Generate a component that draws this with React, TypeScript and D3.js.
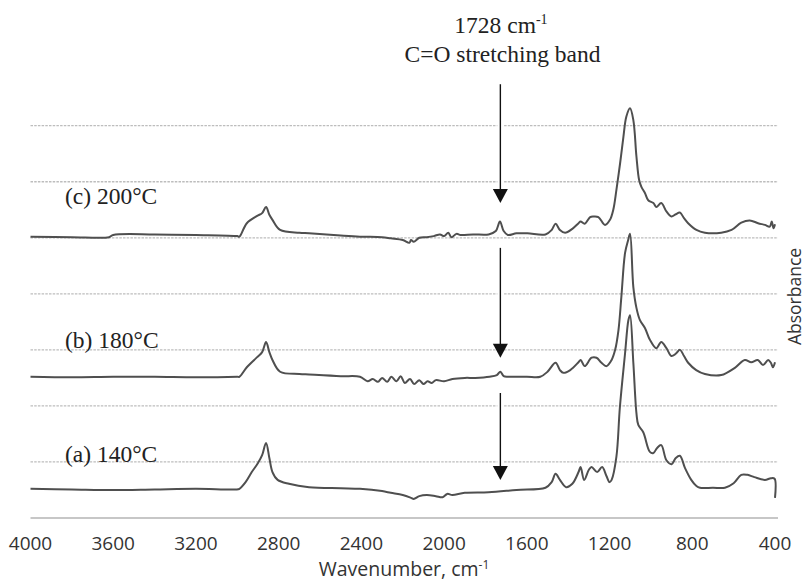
import React from "react";
import * as d3 from "d3";

// ---- data (wavenumber cm-1, absorbance in offset units) ----
const seriesA: [number, number][] = [
  [4000, 0.52], [3800, 0.51], [3600, 0.5], [3400, 0.51], [3200, 0.52], [3000, 0.51], [2990, 0.52],
  [2960, 0.64], [2930, 0.82], [2900, 0.98], [2880, 1.12], [2861, 1.34], [2845, 1.07], [2830, 0.82],
  [2805, 0.68], [2750, 0.61], [2653, 0.55], [2500, 0.53], [2407, 0.52], [2300, 0.48], [2258, 0.45],
  [2200, 0.41], [2160, 0.36], [2147, 0.34], [2120, 0.39], [2084, 0.41], [2040, 0.39], [2007, 0.37],
  [1985, 0.43], [1960, 0.41], [1900, 0.45], [1785, 0.46], [1650, 0.5], [1510, 0.54], [1480, 0.64],
  [1461, 0.79], [1440, 0.68], [1410, 0.55], [1380, 0.61], [1350, 0.82], [1340, 0.91], [1323, 0.68],
  [1300, 0.86], [1287, 0.91], [1260, 0.82], [1236, 0.91], [1215, 0.75], [1200, 0.64], [1190, 0.68],
  [1167, 1.09], [1150, 1.98], [1125, 2.94], [1109, 3.53], [1101, 3.62], [1085, 2.77], [1070, 1.87],
  [1061, 1.66], [1037, 1.53], [1005, 1.18], [988, 1.16], [970, 1.25], [950, 1.3], [925, 1.03],
  [900, 0.96], [880, 1.07], [860, 1.11], [835, 0.89], [805, 0.68], [780, 0.57], [763, 0.54],
  [700, 0.54], [642, 0.54], [600, 0.62], [563, 0.77], [533, 0.77], [500, 0.73], [449, 0.68],
  [420, 0.71], [402, 0.7], [400, 0.36],
];

const seriesB: [number, number][] = [
  [4000, 2.52], [3800, 2.51], [3600, 2.52], [3400, 2.52], [3200, 2.51], [3000, 2.52], [2990, 2.52],
  [2954, 2.69], [2904, 2.87], [2880, 2.96], [2861, 3.14], [2845, 2.96], [2830, 2.82], [2793, 2.61],
  [2700, 2.57], [2653, 2.56], [2500, 2.53], [2407, 2.52], [2370, 2.44], [2345, 2.48], [2320, 2.43],
  [2300, 2.5], [2275, 2.43], [2255, 2.52], [2230, 2.44], [2210, 2.53], [2190, 2.41], [2165, 2.48],
  [2145, 2.39], [2120, 2.46], [2100, 2.39], [2080, 2.44], [2060, 2.41], [2040, 2.46], [2000, 2.44],
  [1960, 2.48], [1900, 2.5], [1850, 2.5], [1780, 2.52], [1745, 2.55], [1728, 2.61], [1712, 2.53],
  [1690, 2.52], [1600, 2.52], [1535, 2.52], [1500, 2.61], [1461, 2.77], [1440, 2.64], [1423, 2.59],
  [1390, 2.64], [1350, 2.78], [1340, 2.82], [1320, 2.71], [1287, 2.86], [1263, 2.86], [1239, 2.77],
  [1215, 2.71], [1190, 2.82], [1173, 3.0], [1157, 3.35], [1143, 3.94], [1125, 4.73], [1110, 4.96],
  [1101, 5.07], [1085, 4.12], [1070, 3.75], [1053, 3.53], [1029, 3.39], [1005, 3.18], [974, 3.03],
  [950, 3.14], [925, 3.03], [901, 2.89], [880, 2.93], [860, 3.0], [840, 2.89], [820, 2.77],
  [781, 2.64], [739, 2.57], [660, 2.55], [594, 2.68], [546, 2.82], [515, 2.78], [483, 2.82],
  [458, 2.73], [433, 2.82], [420, 2.77], [410, 2.69], [400, 2.78],
];

const seriesC: [number, number][] = [
  [4000, 5.02], [3800, 5.01], [3620, 5.01], [3600, 5.05], [3400, 5.06], [3200, 5.05], [3000, 5.03],
  [2990, 5.02], [2954, 5.26], [2904, 5.39], [2880, 5.44], [2861, 5.55], [2845, 5.41], [2830, 5.32],
  [2793, 5.14], [2700, 5.09], [2653, 5.08], [2500, 5.04], [2407, 5.02], [2300, 5.01], [2258, 4.99],
  [2200, 4.96], [2168, 4.91], [2160, 4.96], [2147, 4.93], [2120, 5.0], [2084, 5.01], [2050, 5.03],
  [2020, 5.06], [2000, 5.03], [1980, 5.09], [1965, 5.01], [1940, 5.07], [1920, 5.05], [1860, 5.06],
  [1785, 5.06], [1750, 5.12], [1730, 5.29], [1712, 5.12], [1692, 5.05], [1650, 5.08], [1597, 5.08],
  [1510, 5.06], [1480, 5.14], [1461, 5.25], [1440, 5.14], [1415, 5.09], [1380, 5.16], [1350, 5.26],
  [1340, 5.29], [1320, 5.25], [1294, 5.37], [1278, 5.38], [1254, 5.37], [1222, 5.23], [1198, 5.32],
  [1182, 5.5], [1167, 5.85], [1149, 6.33], [1133, 6.8], [1119, 7.16], [1101, 7.31], [1085, 7.1],
  [1070, 6.45], [1057, 6.03], [1046, 5.91], [1029, 5.8], [1013, 5.67], [988, 5.62], [974, 5.55],
  [950, 5.62], [925, 5.47], [901, 5.38], [880, 5.42], [860, 5.45], [840, 5.35], [820, 5.26],
  [780, 5.14], [739, 5.09], [660, 5.09], [610, 5.14], [563, 5.27], [522, 5.31], [482, 5.26],
  [449, 5.23], [425, 5.2], [416, 5.29], [407, 5.17], [400, 5.24],
];

const xTicks = [4000, 3600, 3200, 2800, 2400, 2000, 1600, 1200, 800, 400];
const yGrid = [1, 2, 3, 4, 5, 6, 7];
const seriesLabels = ["(a) 140°C", "(b) 180°C", "(c) 200°C"];
const labelValues = [1.0, 3.03, 5.6];
const annotationWavenumber = 1728;
const arrowTops = [2.23, 4.82, 7.74];
const arrowTips = [0.68, 2.86, 5.62];

const W = 805;
const H = 585;

export default function App() {
  const x = d3.scaleLinear().domain([4000, 400]).range([30.5, 775]);
  const y = d3.scaleLinear().domain([0, 7]).range([518, 125.7]);
  const line = d3
    .line<[number, number]>()
    .x((d) => x(d[0]))
    .y((d) => y(d[1]))
    .curve(d3.curveCatmullRom.alpha(0.5));

  const serif = "'Liberation Serif', 'Times New Roman', serif";
  const sans = "'Open Sans', 'Noto Sans', sans-serif";
  const ax = x(annotationWavenumber);
  const lineColor = "#4f4f4f";

  return (
    <svg
      width={W}
      height={H}
      style={{ position: "absolute", left: 0, top: 0, background: "#fff" }}
    >
      <rect x={0} y={0} width={W} height={H} fill="#fff" />
      {/* gridlines */}
      {yGrid.map((g) => (
        <line
          key={g}
          x1={x(4000)}
          x2={778}
          y1={y(g)}
          y2={y(g)}
          stroke="#bdbdbd"
          strokeWidth={1.3}
          strokeDasharray="2.5,1.2"
        />
      ))}
      <line x1={x(4000)} x2={778} y1={y(0)} y2={y(0)} stroke="#b5b5b5" strokeWidth={1.6} />

      {/* x tick labels */}
      {xTicks.map((t) => (
        <text
          key={t}
          x={x(t)}
          y={550}
          textAnchor="middle"
          fontFamily={sans}
          fontSize={19}
          fill="#333"
        >
          {t}
        </text>
      ))}
      <text x={404} y={576} textAnchor="middle" fontFamily={sans} fontSize={19.5} fill="#333">
        Wavenumber, cm
        <tspan fontSize={12} dy={-7}>
          -1
        </tspan>
      </text>
      <text
        transform={`translate(801,296.5) rotate(-90)`}
        textAnchor="middle"
        fontFamily={sans}
        fontSize={17.5}
        fill="#333"
      >
        Absorbance
      </text>

      {/* spectra */}
      {[seriesA, seriesB, seriesC].map((s, i) => (
        <path
          key={i}
          d={line(s) || ""}
          fill="none"
          stroke={lineColor}
          strokeWidth={2}
          strokeLinejoin="round"
        />
      ))}

      {/* series labels */}
      {seriesLabels.map((lab, i) => (
        <text
          key={lab}
          x={65}
          y={y(labelValues[i])}
          fontFamily={serif}
          fontSize={23.5}
          fill="#222"
        >
          {lab}
        </text>
      ))}

      {/* arrows */}
      {arrowTops.map((top, i) => {
        const y1 = y(top);
        const y2 = y(arrowTips[i]);
        const headH = 14;
        return (
          <g key={i}>
            <line x1={ax} x2={ax} y1={y1} y2={y2 - headH} stroke="#fff" strokeWidth={6} />
            <line x1={ax} x2={ax} y1={y1} y2={y2 - headH + 1} stroke="#111" strokeWidth={1.4} />
            <path
              d={`M${ax - 7.5},${y2 - headH} L${ax + 7.5},${y2 - headH} L${ax},${y2} Z`}
              fill="#111"
            />
          </g>
        );
      })}

      {/* annotation text */}
      <text x={501} y={33} textAnchor="middle" fontFamily={serif} fontSize={23.5} fill="#222">
        1728 cm
        <tspan fontSize={14} dy={-9}>
          -1
        </tspan>
      </text>
      <text x={502.5} y={62} textAnchor="middle" fontFamily={serif} fontSize={23.5} fill="#222">
        C=O stretching band
      </text>
    </svg>
  );
}
